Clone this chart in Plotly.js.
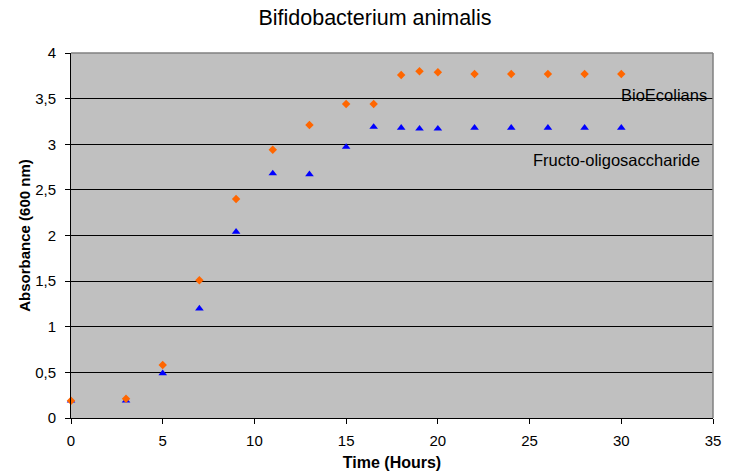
<!DOCTYPE html>
<html>
<head>
<meta charset="utf-8">
<script src="https://cdn.plot.ly/plotly-3.0.1.min.js"></script>
<style>html,body{margin:0;padding:0;background:#fff;}#chart{width:738px;height:472px;}</style>
</head>
<body>
<div id="chart"></div>
<script>
const timeHours = [0, 3, 5, 7, 9, 11, 13, 15, 16.5, 18, 19, 20, 22, 24, 26, 28, 30];
const bioEcolians = [0.19, 0.21, 0.58, 1.51, 2.40, 2.94, 3.21, 3.44, 3.44, 3.76, 3.80, 3.79, 3.77, 3.77, 3.77, 3.77, 3.77];
const fructoOligo = [0.19, 0.19, 0.49, 1.20, 2.04, 2.68, 2.67, 2.97, 3.19, 3.18, 3.17, 3.17, 3.18, 3.18, 3.18, 3.18, 3.18];
const seriesNames = ["BioEcolians", "Fructo-oligosaccharide"];
const chartTitle = "Bifidobacterium animalis";
const xTitle = "Time (Hours)";
const yTitle = "Absorbance (600 nm)";

const font = "Arial, 'Liberation Sans', sans-serif";

const traces = [
  {x: timeHours, y: fructoOligo, name: seriesNames[1], mode: "markers", type: "scatter", cliponaxis: false,
   marker: {symbol: "triangle-up", size: 7.5, color: "#0000FF"}},
  {x: timeHours, y: bioEcolians, name: seriesNames[0], mode: "markers", type: "scatter", cliponaxis: false,
   marker: {symbol: "diamond", size: 6.5, color: "#FF6600"}}
];

const layout = {
  width: 738, height: 472,
  margin: {l: 71, r: 25, t: 53, b: 54},
  paper_bgcolor: "#FFFFFF",
  plot_bgcolor: "#C0C0C0",
  separators: ", ",
  showlegend: false,
  font: {family: font, color: "#000"},
  title: {text: chartTitle, font: {family: font, size: 21.5, color: "#000"}, x: 0.508, xanchor: "center", y: 0.964, yanchor: "middle"},
  xaxis: {
    range: [0, 35], dtick: 5, tick0: 0,
    showgrid: false, zeroline: false,
    showline: true, linecolor: "#000", linewidth: 1,
    ticks: "outside", ticklen: 5, tickcolor: "#000",
    ticklabelstandoff: 4,
    tickfont: {family: font, size: 15, color: "#000"},
    title: {text: xTitle, font: {family: font, size: 16, color: "#000", weight: "bold"}, standoff: 8}
  },
  yaxis: {
    range: [0, 4], dtick: 0.5, tick0: 0,
    showgrid: true, gridcolor: "#000", gridwidth: 1, zeroline: false,
    showline: true, linecolor: "#000", linewidth: 1,
    ticks: "outside", ticklen: 5, tickcolor: "#000",
    ticklabelstandoff: 6,
    tickfont: {family: font, size: 15, color: "#000"},
    title: {text: yTitle, font: {family: font, size: 15, color: "#000", weight: "bold"}, standoff: 0}
  },
  shapes: [
    {type: "line", xref: "paper", yref: "paper", x0: 0, x1: 1, y0: 1, y1: 1, line: {color: "#808080", width: 1.5}},
    {type: "line", xref: "paper", yref: "paper", x0: 1, x1: 1, y0: 0, y1: 1, line: {color: "#808080", width: 1.5}}
  ],
  annotations: [
    {x: 32.32, y: 3.54, xref: "x", yref: "y", text: seriesNames[0], showarrow: false, font: {family: font, size: 16.5, color: "#000"}},
    {x: 29.76, y: 2.83, xref: "x", yref: "y", text: seriesNames[1], showarrow: false, font: {family: font, size: 16.5, color: "#000"}}
  ]
};

Plotly.newPlot("chart", traces, layout, {displayModeBar: false, staticPlot: true});
</script>
</body>
</html>
